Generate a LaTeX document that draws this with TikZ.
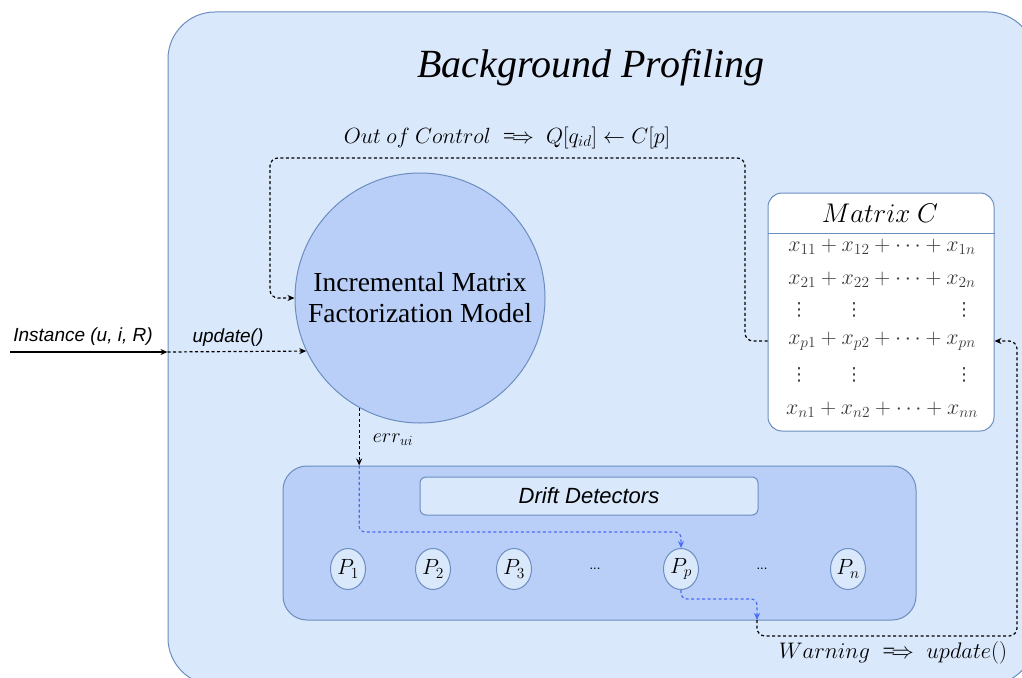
\RequirePackage{fix-cm}
\documentclass[tikz,border=0pt]{standalone}
\usepackage{amsmath}
\usepackage{fontspec}
\setmainfont{Liberation Serif}
\newfontfamily\sansf{Liberation Sans}
\newfontfamily\djv{DejaVu Sans}
\usetikzlibrary{arrows.meta,calc,shapes.geometric}
\definecolor{bgfill}{HTML}{DAE8FC}
\definecolor{bgline}{HTML}{6C8EBF}
\definecolor{midfill}{HTML}{B9CFF8}
\definecolor{bluearr}{HTML}{4A6CF5}
\definecolor{mattext}{HTML}{3A3A3A}
\begin{document}
\begin{tikzpicture}[x=1pt,y=-1pt,
  boxline/.style={draw=bgline,line width=1pt},
  tipend/.style={-{Stealth[length=7pt,width=6pt]}},
  dotline/.style={line width=1.2pt,dash pattern=on 3pt off 2.5pt},
  rowtxt/.style={text=mattext,font=\fontsize{22}{24}\selectfont,inner sep=0},
  vdt/.style={text=mattext,font=\djv\fontsize{18}{20}\selectfont,inner sep=0},
  pnode/.style={ellipse,boxline,fill=bgfill,minimum width=35pt,minimum height=41pt,inner sep=0,font=\fontsize{22}{24}\selectfont},
  lbl/.style={inner sep=0}]
\useasboundingbox (0,0) rectangle (1022,677);
\clip (0,0) rectangle (1022,677);
% outer box
\node[boxline,fill=bgfill,rounded corners=47pt,minimum width=867pt,minimum height=673pt,inner sep=0] (bp) at (601.5,348.5) {};
\node[lbl] (title) at (591,68) {\fontsize{40}{44}\selectfont\itshape Background Profiling};
% model circle
\node[circle,boxline,fill=midfill,minimum size=250pt,inner sep=0,align=center,font=\fontsize{27.5}{31}\selectfont] (ifm) at (420,298) {Incremental Matrix\\Factorization Model};
% matrix C
\node[boxline,fill=white,rounded corners=14pt,minimum width=226pt,minimum height=238pt,inner sep=0] (matC) at (881,312) {};
\coordinate (hl) at (0,233);
\draw[boxline] (matC.west |- hl) -- (matC.east |- hl);
\node[lbl] (mct) at (880,213) {\fontsize{27}{30}\selectfont $Matrix\ C$};
\node[rowtxt] (r1) at (882,247) {$x_{11}+x_{12}+\cdots+x_{1n}$};
\node[rowtxt] (r2) at (882,280) {$x_{21}+x_{22}+\cdots+x_{2n}$};
\node[vdt] (v1a) at (799,310) {⋮};
\node[vdt] (v1b) at (854,310) {⋮};
\node[vdt] (v1c) at (964,310) {⋮};
\node[rowtxt] (rp) at (882,341) {$x_{p1}+x_{p2}+\cdots+x_{pn}$};
\node[vdt] (v2a) at (799,375) {⋮};
\node[vdt] (v2b) at (854,375) {⋮};
\node[vdt] (v2c) at (964,375) {⋮};
\node[rowtxt] (rn) at (882,410) {$x_{n1}+x_{n2}+\cdots+x_{nn}$};
% drift detectors
\node[boxline,fill=midfill,rounded corners=24pt,minimum width=633pt,minimum height=154pt,inner sep=0] (dd) at (599.5,543) {};
\node[boxline,fill=bgfill,rounded corners=6pt,minimum width=338pt,minimum height=38pt,inner sep=0,font=\sansf\itshape\fontsize{22}{24}\selectfont] (ddt) at (589,496) {Drift Detectors};
\node[pnode] (p1) at (348,569) {$P_1$};
\node[pnode] (p2) at (433,569) {$P_2$};
\node[pnode] (p3) at (514,569) {$P_3$};
\node[lbl,font=\sansf\fontsize{13}{14}\selectfont] (e1) at (595,569) {...};
\node[pnode] (pp) at (681,569) {$P_p$};
\node[lbl,font=\sansf\fontsize{13}{14}\selectfont] (e2) at (762,569) {...};
\node[pnode] (pn) at (848,569) {$P_n$};
% input
\coordinate (in) at (10,352);
\draw[line width=1.2pt,tipend] (in) -- (bp.west |- in);
\draw[dotline,tipend] (bp.west |- in) -- (ifm.205);
\node[lbl] (linst) at (83,337) {\sansf\itshape\fontsize{19}{21}\selectfont Instance (u, i, R)};
\node[lbl] (lupd) at (228,338) {\sansf\itshape\fontsize{19}{21}\selectfont update()};
% out of control
\coordinate (oc1) at (745,158);
\coordinate (oc2) at (270,158);
\draw[dotline,tipend,rounded corners=8pt] (matC.west |- rp) -| (oc1) -- (oc2) |- (ifm.west);
\node[lbl] (loc) at (507,138) {\fontsize{22}{24}\selectfont $Out\ of\ Control \implies Q[q_{id}] \leftarrow C[p]$};
% error
\draw[dotline,tipend] (ifm.241) -- (ifm.241 |- dd.north);
\node[lbl] (lerr) at (393,440) {\fontsize{20}{22}\selectfont $err_{ui}$};
\draw[dotline,draw=bluearr,tipend,rounded corners=6pt] (ifm.241 |- dd.north) |- ($(pp.north)+(0,-16)$) -- (pp.north);
\coordinate (w1) at (757,620);
\coordinate (w2) at (1017,636);
\draw[dotline,draw=bluearr,tipend,rounded corners=6pt] (pp.south) -- ++(0,9) -| (w1);
\draw[dotline,tipend,rounded corners=8pt] (w1) |- (w2) |- (matC.east |- rp);
\node[lbl] (lwarn) at (893,653) {\fontsize{22.5}{24}\selectfont $Warning \implies update()$};
\end{tikzpicture}
\end{document}
